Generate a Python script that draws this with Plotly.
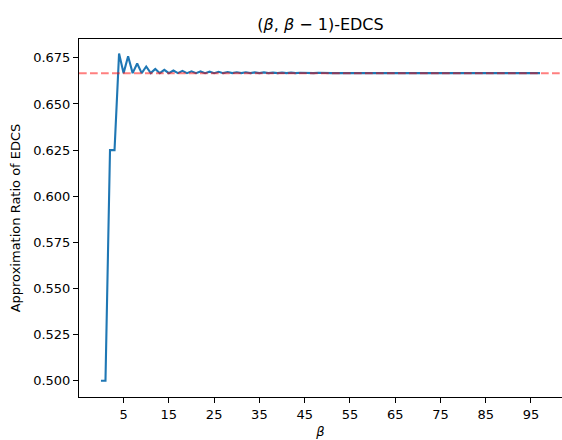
import plotly.graph_objects as go

beta = list(range(0, 98))
ratio = [
    0.5000, 0.5000, 0.6250, 0.6250, 0.6773, 0.6667, 0.6759, 0.6667, 0.6719, 0.6667,
    0.6703, 0.6667, 0.6690, 0.6667, 0.6685, 0.6667, 0.6681, 0.6667, 0.6679, 0.6667,
    0.6677, 0.6667, 0.6676, 0.6667, 0.6675, 0.6667, 0.6674, 0.6667, 0.6673, 0.6667,
    0.6672, 0.6667, 0.6672, 0.6667, 0.6671, 0.6667, 0.6671, 0.6667, 0.6670, 0.6667,
    0.6670, 0.6667, 0.6670, 0.6667, 0.6669, 0.6667, 0.6669, 0.6667, 0.6669, 0.6667,
    0.6669, 0.6667, 0.6668, 0.6667, 0.6668, 0.6667, 0.6668, 0.6667, 0.6668, 0.6667,
    0.6668, 0.6667, 0.6668, 0.6667, 0.6668, 0.6667, 0.6668, 0.6667, 0.6668, 0.6667,
    0.6668, 0.6667, 0.6668, 0.6667, 0.6668, 0.6667, 0.6668, 0.6667, 0.6668, 0.6667,
    0.6668, 0.6667, 0.6668, 0.6667, 0.6667, 0.6667, 0.6667, 0.6667, 0.6667, 0.6667,
    0.6667, 0.6667, 0.6667, 0.6667, 0.6667, 0.6667, 0.6667, 0.6667,
]
reference_ratio = 2 / 3
x_ticks = [5, 15, 25, 35, 45, 55, 65, 75, 85, 95]
y_ticks = [0.500, 0.525, 0.550, 0.575, 0.600, 0.625, 0.650, 0.675]

FONT = "DejaVu Sans"

fig = go.Figure()
fig.add_trace(go.Scatter(
    x=beta, y=ratio, mode="lines",
    line=dict(color="#1f77b4", width=2.1),
    showlegend=False, hoverinfo="skip",
))
fig.add_shape(
    type="line", xref="paper", yref="y",
    x0=0, x1=1, y0=reference_ratio, y1=reference_ratio,
    line=dict(color="rgba(255,0,0,0.5)", width=2.1, dash="7.7px,3.3px"),
    layer="above",
)

fig.update_layout(
    width=562, height=440,
    margin=dict(l=79, r=0, t=39, b=43),
    paper_bgcolor="white", plot_bgcolor="white",
    font=dict(family=FONT, size=13, color="black"),
    title=dict(
        text="(<i>β</i>, <i>β</i> − 1)-EDCS",
        x=0.5, xref="paper", xanchor="center",
        y=1, yref="paper", yanchor="bottom", pad=dict(b=9),
        font=dict(family=FONT, size=16, color="black"),
    ),
)
fig.update_xaxes(
    range=[-4.85, 101.85], tickmode="array", tickvals=x_ticks,
    ticktext=[str(v) for v in x_ticks],
    showgrid=False, zeroline=False, automargin=False,
    showline=True, mirror=True, linecolor="black", linewidth=1.1,
    ticks="outside", ticklen=5, tickwidth=1.1, tickcolor="black",
    title=dict(text="<i>β</i>", standoff=6, font=dict(family=FONT, size=13)),
)
fig.update_yaxes(
    range=[0.4912, 0.6852], tickmode="array", tickvals=y_ticks,
    ticktext=[f"{v:.3f}" for v in y_ticks],
    showgrid=False, zeroline=False, automargin=False,
    showline=True, mirror=True, linecolor="black", linewidth=1.1,
    ticks="outside", ticklen=5, tickwidth=1.1, tickcolor="black",
    title=dict(text="Approximation Ratio of EDCS", standoff=9, font=dict(family=FONT, size=13)),
)

fig.write_html(
    "out.html",
    config={"displayModeBar": False},
    post_script="document.body.style.margin='0';document.body.style.overflow='hidden';",
)
